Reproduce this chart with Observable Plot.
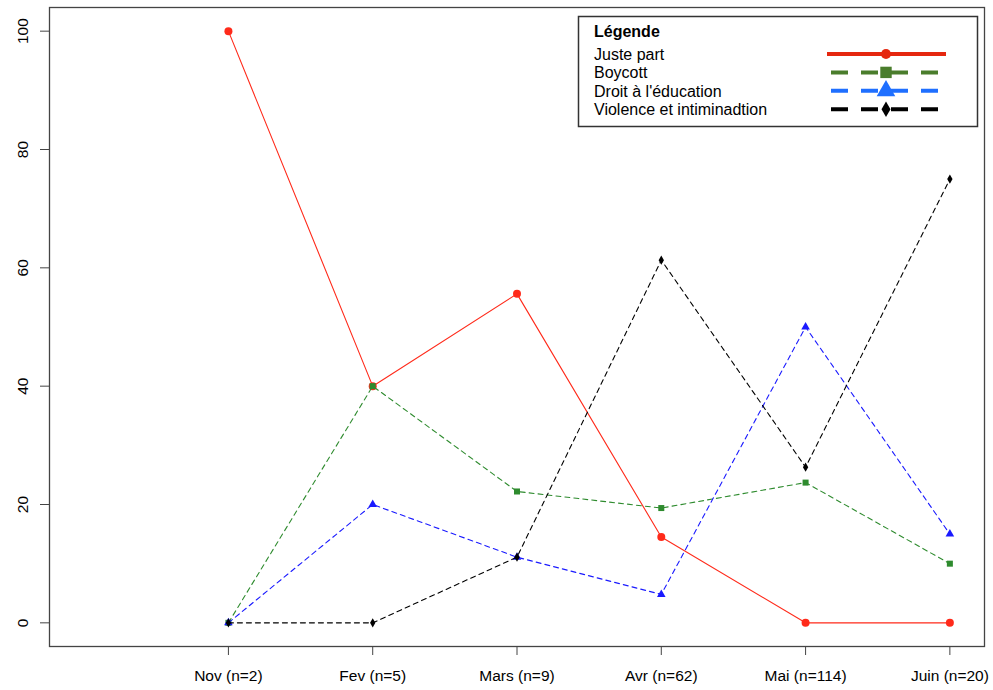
<!DOCTYPE html>
<html><head><meta charset="utf-8">
<script src="https://cdn.jsdelivr.net/npm/d3@7"></script>
<script src="https://cdn.jsdelivr.net/npm/@observablehq/plot@0.6"></script>
<style>body{margin:0;background:#fff} #chart{width:993px;height:690px}</style>
</head><body><div id="chart"></div>
<script>
const months = ["Nov (n=2)", "Fev (n=5)", "Mars (n=9)", "Avr (n=62)", "Mai (n=114)", "Juin (n=20)"];
const justePart = [100, 40, 55.6, 14.5, 0, 0];
const boycott = [0, 40, 22.2, 19.4, 23.7, 10];
const droitEducation = [0, 20, 11.1, 4.8, 50, 15];
const violence = [0, 0, 11.1, 61.3, 26.3, 75];
const yTicks = [0, 20, 40, 60, 80, 100];
const seriesNames = ["Juste part", "Boycott", "Droit à l'éducation", "Violence et intiminadtion"];
const legendTitle = "Légende";

const styles = [
  {values: justePart, stroke: "#ff2a1a", dash: null, symbol: "circle", r: 4, legendColor: "#e5270f"},
  {values: boycott, stroke: "#2e8b2e", dash: "5,4", symbol: "square", r: 3.4, legendColor: "#4a7d2c"},
  {values: droitEducation, stroke: "#1a1aff", dash: "5,4", symbol: "triangle", r: 3.2, legendColor: "#1f6fff"},
  {values: violence, stroke: "#000", dash: "5,4", symbol: "diamond", r: 2.8, legendColor: "#000"}
];

const marks = [
  Plot.axisY(yTicks, {tickSize: 9, tickPadding: 13, tickRotate: -90, stroke: "#444", fill: "#000", label: null}),
  Plot.axisX(d3.range(1, months.length + 1), {tickSize: 9, tickPadding: 14, tickFormat: i => months[i - 1], stroke: "#444", fill: "#000", label: null})
];
styles.forEach((s, k) => {
  const rows = s.values.map((v, i) => ({x: i + 1, y: v, s: seriesNames[k]}));
  marks.push(Plot.line(rows, {x: "x", y: "y", stroke: s.stroke, strokeWidth: 1.1, strokeDasharray: s.dash}));
  marks.push(Plot.dot(rows, {x: "x", y: "y", symbol: () => s.symbol, fill: s.stroke, stroke: "none", r: s.r}));
});
marks.push(Plot.frame({stroke: "#444", strokeWidth: 1.3}));

const chart = Plot.plot({
  width: 993, height: 690,
  marginLeft: 49, marginRight: 9, marginTop: 7, marginBottom: 44,
  x: {domain: [-0.24, 6.24], axis: null},
  y: {domain: [-4, 104], axis: null},
  symbol: {type: "identity"},
  style: {fontFamily: "'Liberation Sans', Arial, sans-serif", fontSize: "15.5px", background: "#fff", color: "#000"},
  marks
});
document.getElementById("chart").appendChild(chart);

// Legend (inside plot, top-right)
const svg = d3.select(chart);
const g = svg.append("g").attr("font-family", "'Liberation Sans', Arial, sans-serif").attr("font-size", "16px").attr("text-anchor", "start");
g.append("rect").attr("x", 578.5).attr("y", 16.5).attr("width", 399).attr("height", 110)
  .attr("fill", "#fff").attr("stroke", "#333").attr("stroke-width", 1.5);
g.append("text").attr("x", 594).attr("y", 37).attr("font-weight", "bold").text(legendTitle);
const symMap = {circle: d3.symbolCircle, square: d3.symbolSquare, triangle: d3.symbolTriangle, diamond: d3.symbolDiamond};
styles.forEach((s, k) => {
  const base = 60 + k * 18.4;
  const ly = base - 6;
  g.append("text").attr("x", 594).attr("y", base).text(seriesNames[k]);
  g.append("line").attr("x1", s.dash ? 831 : 827).attr("x2", s.dash ? 940 : 946).attr("y1", ly).attr("y2", ly)
    .attr("stroke", s.legendColor).attr("stroke-width", 4).attr("stroke-dasharray", s.dash ? "17,13" : null);
  const size = {circle: 80, square: 130, triangle: 150, diamond: 70}[s.symbol];
  g.append("path").attr("transform", `translate(886,${ly})`).attr("d", d3.symbol(symMap[s.symbol], size)())
    .attr("fill", s.legendColor);
});
</script></body></html>
